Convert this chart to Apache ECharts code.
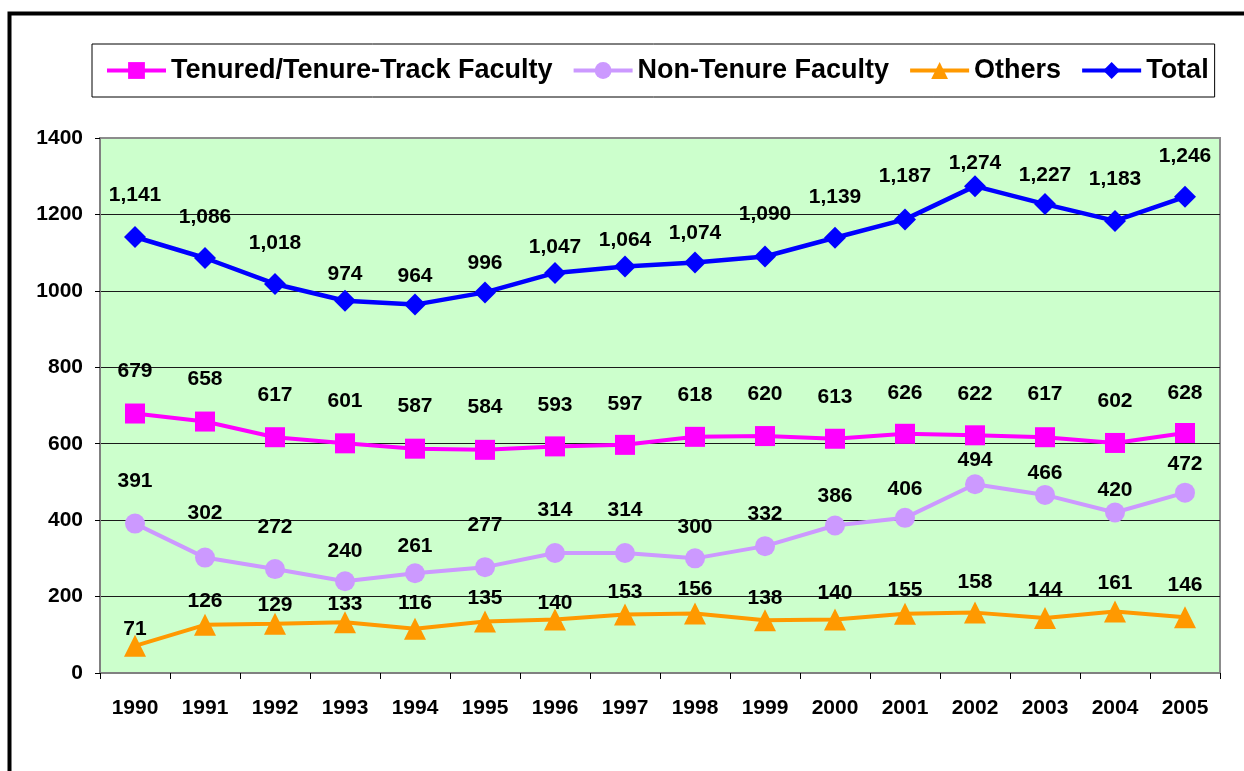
<!DOCTYPE html>
<html>
<head>
<meta charset="utf-8">
<script src="https://cdn.jsdelivr.net/npm/echarts@6/dist/echarts.min.js"></script>
<style>
html,body{margin:0;padding:0;background:#fff;}
#chart{width:1244px;height:771px;}
</style>
</head>
<body>
<div id="chart"></div>
<script>
// ---- data ----
var years = ['1990','1991','1992','1993','1994','1995','1996','1997','1998','1999','2000','2001','2002','2003','2004','2005'];
var tenured = [679,658,617,601,587,584,593,597,618,620,613,626,622,617,602,628];
var nonTenure = [391,302,272,240,261,277,314,314,300,332,386,406,494,466,420,472];
var others = [71,126,129,133,116,135,140,153,156,138,140,155,158,144,161,146];
var total = [1141,1086,1018,974,964,996,1047,1064,1074,1090,1139,1187,1274,1227,1183,1246];
var yTicks = [0,200,400,600,800,1000,1200,1400];

// ---- label placement (vertical offset of each value label from its point, px) ----
var dyTenured = [-42,-42,-42,-42,-42,-43,-41,-41,-42,-42,-42,-41,-41,-43,-42,-40];
var dyNonTenure = [-42,-44,-42,-30,-27,-42,-43,-43,-31,-32,-29,-29,-24,-22,-22,-28];
var dyOthers = [-17,-24,-19,-18,-25,-23,-16,-22,-24,-22,-26,-24,-30,-28,-28,-32];
var dyTotal = [-42,-41,-41,-27,-28,-29,-26,-26,-29,-42,-41,-43,-23,-29,-42,-41];

var FONT = '"Liberation Sans", Arial, sans-serif';
var labelFont = {color:'#000', fontWeight:'bold', fontSize:21, fontFamily:FONT};

function comma(v) { return v.toLocaleString('en-US'); }

function lineSeries(name, values, dys, color, symbol, size, width, fmt) {
  return {
    name: name,
    type: 'line',
    data: values,
    symbol: symbol,
    symbolSize: size,
    showAllSymbol: true,
    lineStyle: {color: color, width: width},
    itemStyle: {color: color, borderWidth: 0},
    label: Object.assign({
      show: true, position: 'inside',
      formatter: function (p) { return fmt ? fmt(p.value) : String(p.value); }
    }, labelFont),
    labelLayout: function (p) { return {dy: dys[p.dataIndex], hideOverlap: false}; },
    emphasis: {disabled: true},
    animation: false
  };
}

var chart = echarts.init(document.getElementById('chart'), null, {renderer: 'canvas'});
chart.setOption({
  backgroundColor: '#fff',
  animation: false,
  graphic: [{
    type: 'rect',
    shape: {x: 9.5, y: 13.5, width: 1400, height: 1000},
    style: {fill: 'none', stroke: '#000', lineWidth: 4},
    z: 100, silent: true
  }],
  legend: {
    left: 92, top: 44,
    padding: [13, 6, 13, 13],
    itemWidth: 59, itemHeight: 21, itemGap: 19,
    borderColor: '#000', borderWidth: 1,
    lineStyle: {width: 4},
    textStyle: {color: '#000', fontWeight: 'bold', fontSize: 27, fontFamily: FONT},
    data: ['Tenured/Tenure-Track Faculty', 'Non-Tenure Faculty', 'Others', 'Total']
  },
  grid: {
    left: 100, right: 24, top: 138, bottom: 98,
    show: true, backgroundColor: '#CCFFCC', borderColor: '#8c8c8c', borderWidth: 2
  },
  xAxis: {
    type: 'category',
    data: years,
    boundaryGap: true,
    axisLine: {show: true, lineStyle: {color: '#808080', width: 2}},
    axisTick: {show: true, length: 6, lineStyle: {color: '#000', width: 1}},
    axisLabel: Object.assign({margin: 25, interval: 0}, labelFont),
    splitLine: {show: false}
  },
  yAxis: {
    type: 'value',
    min: yTicks[0], max: yTicks[yTicks.length - 1], interval: yTicks[1] - yTicks[0],
    axisLine: {show: true, lineStyle: {color: '#808080', width: 2}},
    axisTick: {show: true, length: 5, lineStyle: {color: '#000', width: 1}},
    axisLabel: Object.assign({margin: 17, formatter: function (v) { return String(v); }}, labelFont),
    splitLine: {show: true, showMinLine: false, showMaxLine: false, lineStyle: {color: '#1a1a1a', width: 1}}
  },
  series: [
    lineSeries('Tenured/Tenure-Track Faculty', tenured, dyTenured, '#FF00FF', 'rect', 20, 4),
    lineSeries('Non-Tenure Faculty', nonTenure, dyNonTenure, '#CC99FF', 'circle', 20, 4),
    lineSeries('Others', others, dyOthers, '#FF9900', 'triangle', 22, 4),
    lineSeries('Total', total, dyTotal, '#0000FF', 'diamond', 22, 4.5, comma)
  ]
});
</script>
</body>
</html>
